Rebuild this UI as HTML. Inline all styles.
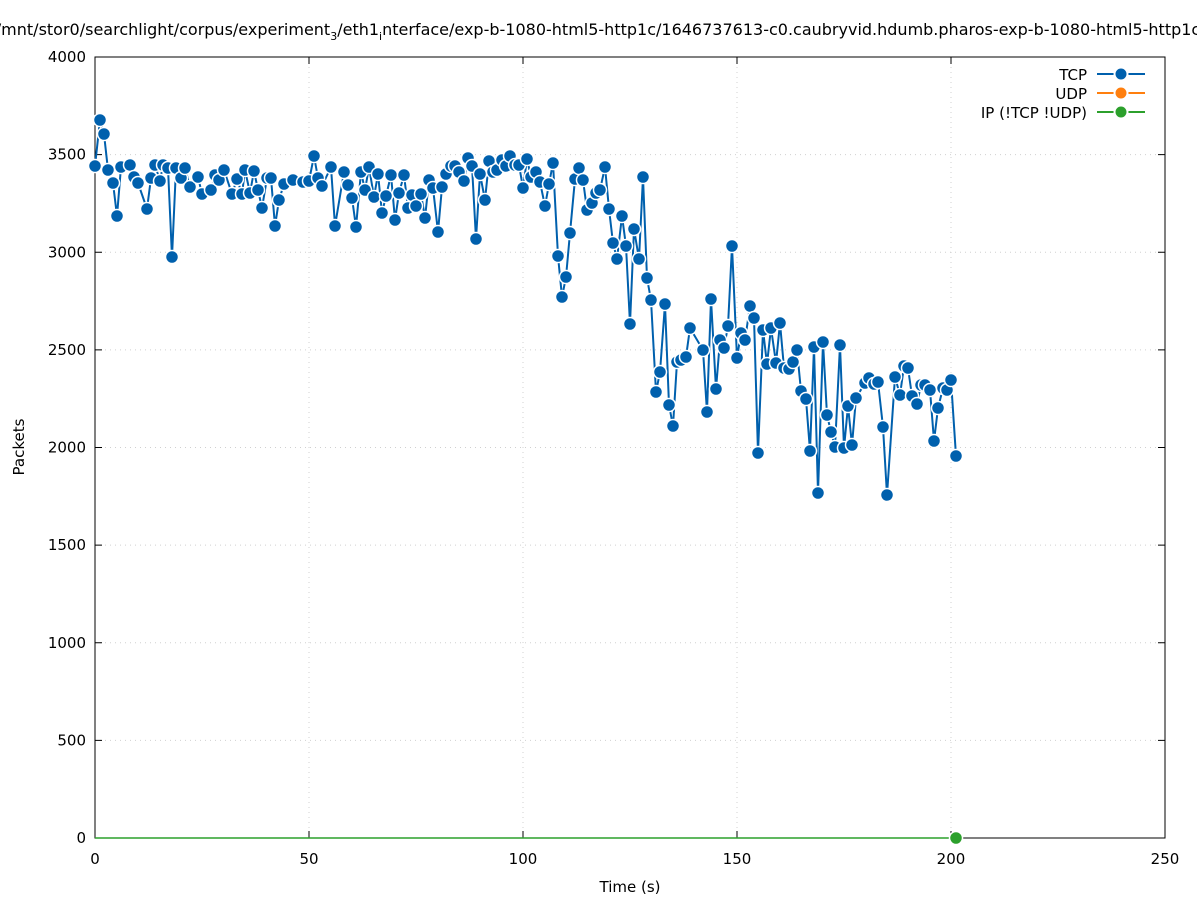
<!DOCTYPE html>
<html><head><meta charset="utf-8"><style>
body{margin:0;background:#fff;}
svg text{font-family:"DejaVu Sans","Liberation Sans",sans-serif;font-size:15px;fill:#000;}
</style></head><body>
<svg id="s" width="1197" height="900" viewBox="0 0 1197 900" xmlns="http://www.w3.org/2000/svg">
<rect width="1197" height="900" fill="#fff"/>
<text x="598" y="35" text-anchor="middle" style="font-size:16px">/mnt/stor0/searchlight/corpus/experiment<tspan font-size="11" dy="5">3</tspan><tspan dy="-5">/eth1</tspan><tspan font-size="11" dy="5">i</tspan><tspan dy="-5">nterface/exp-b-1080-html5-http1c/1646737613-c0.caubryvid.hdumb.pharos-exp-b-1080-html5-http1c</tspan></text>
<g id="grid" stroke="#d0d0d0" stroke-width="1" stroke-dasharray="1,4"></g>
<rect x="95" y="57" width="1070" height="781" fill="none" stroke="#000" stroke-width="1"/>
<g id="ticks" stroke="#000" stroke-width="1"></g>
<g id="labels"></g>
<text x="630" y="892" text-anchor="middle">Time (s)</text>
<text transform="translate(24,447) rotate(-90)" text-anchor="middle">Packets</text>
<line x1="95" y1="838" x2="956" y2="838" stroke="#2ca02c" stroke-width="1.5"/>
<g id="data"></g>
<circle cx="956" cy="838" r="6.5" fill="#2ca02c" stroke="#fff" stroke-width="1.5"/>
<text x="1087" y="80" text-anchor="end">TCP</text>
<text x="1087" y="99" text-anchor="end">UDP</text>
<text x="1087" y="118" text-anchor="end">IP (!TCP  !UDP)</text>
<line x1="1097" y1="74" x2="1145" y2="74" stroke="#0060ad" stroke-width="2"/>
<circle cx="1121" cy="74" r="6.5" fill="#0060ad" stroke="#fff" stroke-width="2"/>
<line x1="1097" y1="93" x2="1145" y2="93" stroke="#ff7f0e" stroke-width="2"/>
<circle cx="1121" cy="93" r="6.5" fill="#ff7f0e" stroke="#fff" stroke-width="2"/>
<line x1="1097" y1="112" x2="1145" y2="112" stroke="#2ca02c" stroke-width="2"/>
<circle cx="1121" cy="112" r="6.5" fill="#2ca02c" stroke="#fff" stroke-width="2"/>
</svg>
<script>
var NS="http://www.w3.org/2000/svg";
function el(p,t,a,txt){var e=document.createElementNS(NS,t);for(var k in a)e.setAttribute(k,a[k]);if(txt!=null)e.textContent=txt;document.getElementById(p).appendChild(e);return e;}
for(var k=0;k<=8;k++){var y=838-97.625*k;
 if(k>0&&k<8)el("grid","line",{x1:95,y1:y,x2:1165,y2:y});
 el("ticks","line",{x1:95,y1:y,x2:102,y2:y});el("ticks","line",{x1:1165,y1:y,x2:1158,y2:y});
 el("labels","text",{x:86,y:y+5,"text-anchor":"end"},String(k*500));}
for(var k=0;k<=5;k++){var x=95+214*k;
 if(k>0&&k<5)el("grid","line",{x1:x,y1:57,x2:x,y2:838});
 el("ticks","line",{x1:x,y1:838,x2:x,y2:831});el("ticks","line",{x1:x,y1:57,x2:x,y2:64});
 el("labels","text",{x:x,y:864,"text-anchor":"middle"},String(k*50));}
var P=[95,166,100,120,104,134,108,170,113,183,117,216,121,167,130,165,134,177,138,183,147,209,151,178,155,165,160,181,163,165,168,168,172,257,176,168,181,178,185,168,190,187,198,177,202,194,211,190,215,175,219,180,224,170,232,194,237,179,242,194,245,170,250,193,254,171,258,190,262,208,267,178,271,178,275,226,279,200,284,184,293,180,303,182,309,181,314,156,318,178,322,186,331,167,335,226,344,172,348,185,352,198,356,227,361,172,365,190,369,167,374,197,378,174,382,213,386,196,391,175,395,220,399,193,404,175,408,208,412,195,416,206,421,194,425,218,429,180,433,188,438,232,442,187,446,174,451,166,455,166,459,172,464,181,468,158,472,166,476,239,480,174,485,200,489,161,493,172,497,170,502,160,506,166,510,156,515,165,519,165,523,188,527,159,531,177,536,172,540,182,545,206,549,184,553,163,558,256,562,297,566,277,570,233,575,179,579,168,583,180,587,210,592,203,596,193,600,190,605,167,609,209,613,243,617,259,622,216,626,246,630,324,634,229,639,259,643,177,647,278,651,300,656,392,660,372,665,304,669,405,673,426,677,362,681,360,686,357,690,328,703,350,707,412,711,299,716,389,720,340,724,348,728,326,732,246,737,358,741,333,745,340,750,306,754,318,758,453,763,330,767,364,771,328,776,363,780,323,784,368,789,369,793,362,797,350,801,391,806,399,810,451,814,347,818,493,823,342,827,415,831,432,835,447,840,345,844,448,848,406,852,445,856,398,865,383,869,378,874,384,878,382,883,427,887,495,895,377,900,395,904,366,908,368,912,396,917,404,921,385,925,385,930,390,934,441,938,408,943,388,947,390,951,380,956,456];
var pts=[];for(var i=0;i<P.length;i+=2)pts.push(P[i]+","+P[i+1]);
el("data","polyline",{points:pts.join(" "),fill:"none",stroke:"#0060ad","stroke-width":2});
for(var i=0;i<P.length;i+=2)el("data","circle",{cx:P[i],cy:P[i+1],r:6.5,fill:"#0060ad",stroke:"#fff","stroke-width":1.5});
</script>
</body></html>
